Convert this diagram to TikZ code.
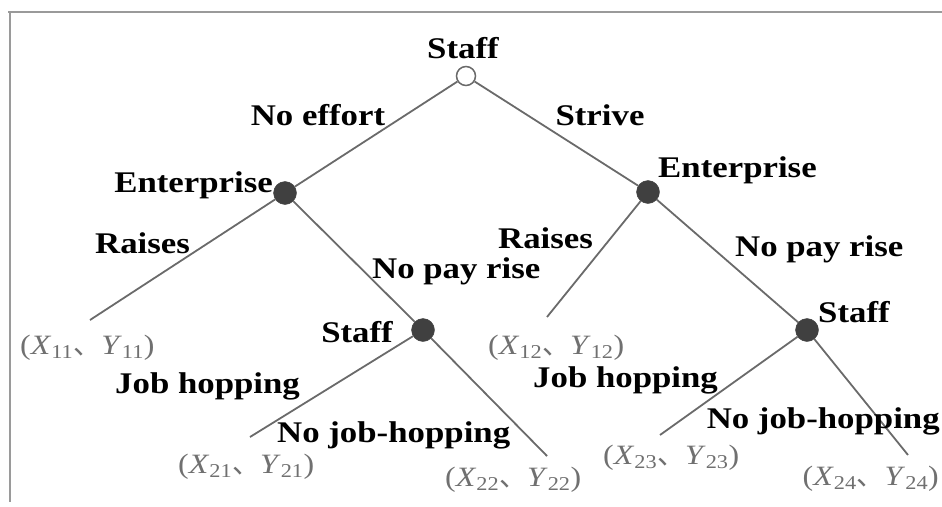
\documentclass[tikz,border=0pt]{standalone}
\usepackage{fontspec}
\setmainfont[FakeStretch=1.16]{Liberation Serif}
\newfontfamily\payfont[FakeStretch=1.14]{Liberation Serif}
\newfontfamily\cjkfont{Noto Sans CJK SC}
\newcommand\payoff[2]{(\textit{X}\textsubscript{#1}{\cjkfont 、}\textit{Y}\textsubscript{#2})}
\definecolor{linegray}{HTML}{6A6A6A}
\definecolor{paygray}{HTML}{707070}
\definecolor{dotgray}{HTML}{404040}
\definecolor{framegray}{HTML}{9A9A9A}
\tikzset{
  lab/.style={font=\fontsize{30}{33}\selectfont\bfseries, inner sep=0pt, text=black},
  pay/.style={font=\payfont\fontsize{28}{32}\selectfont, inner sep=0pt, text=paygray},
  decision/.style={circle, fill=dotgray, draw=dotgray, minimum size=23pt, inner sep=0pt},
  rootnode/.style={circle, fill=white, draw=linegray, line width=1.5pt, minimum size=19pt, inner sep=0pt},
  branch/.style={draw=linegray, line width=1.8pt},
}
\begin{document}
\begin{tikzpicture}[x=1pt, y=-1pt]
\useasboundingbox (0,0) rectangle (942,506);
% frame
\draw[framegray, line width=2pt] (8,12) -- (942,12);
\draw[framegray, line width=2pt] (10,12) -- (10,502);
% decision nodes
\node[rootnode] (root) at (466,76) {};
\node[decision] (e1) at (285,193) {};
\node[decision] (e2) at (648,192) {};
\node[decision] (s1) at (423,330) {};
\node[decision] (s2) at (807,330) {};
% leaf ends
\coordinate (l11) at (90,320);
\coordinate (l12) at (547,317);
\coordinate (l21) at (250,437);
\coordinate (l22) at (547,456);
\coordinate (l23) at (660,435);
\coordinate (l24) at (908,455);
% branches
\draw[branch] (root) -- (e1);
\draw[branch] (root) -- (e2);
\draw[branch] (e1) -- (l11);
\draw[branch] (e1) -- (s1);
\draw[branch] (e2) -- (l12);
\draw[branch] (e2) -- (s2);
\draw[branch] (s1) -- (l21);
\draw[branch] (s1) -- (l22);
\draw[branch] (s2) -- (l23);
\draw[branch] (s2) -- (l24);
% labels
\node[lab, anchor=base] (tstaff) at (463,58) {Staff};
\node[lab, anchor=base] (tnoeff) at (318,125) {No effort};
\node[lab, anchor=base] (tstrive) at (600,125) {Strive};
\node[lab, anchor=base east] (tent1) at (273,192) {Enterprise};
\node[lab, anchor=base west] (tent2) at (658,177) {Enterprise};
\node[lab, anchor=base west] (trai1) at (95,253) {Raises};
\node[lab, anchor=base west] (trai2) at (498,248) {Raises};
\node[lab, anchor=base west] (tnpr1) at (372,278) {No pay rise};
\node[lab, anchor=base west] (tnpr2) at (735,256) {No pay rise};
\node[lab, anchor=base east] (tst1) at (393,342) {Staff};
\node[lab, anchor=base west] (tst2) at (818,322) {Staff};
\node[lab, anchor=base west] (tjh1) at (115,393) {Job hopping};
\node[lab, anchor=base west] (tjh2) at (533,387) {Job hopping};
\node[lab, anchor=base west] (tnjh1) at (277,442) {No job-hopping};
\node[lab, anchor=base east] (tnjh2) at (940,428) {No job-hopping};
% payoffs
\node[pay, anchor=base west] (p11) at (20,354) {\payoff{11}{11}};
\node[pay, anchor=base west] (p12) at (488,354) {\payoff{12}{12}};
\node[pay, anchor=base west] (p21) at (178,473) {\payoff{21}{21}};
\node[pay, anchor=base west] (p22) at (445,486) {\payoff{22}{22}};
\node[pay, anchor=base west] (p23) at (603,464) {\payoff{23}{23}};
\node[pay, anchor=base east] (p24) at (939,485) {\payoff{24}{24}};
\end{tikzpicture}
\end{document}
